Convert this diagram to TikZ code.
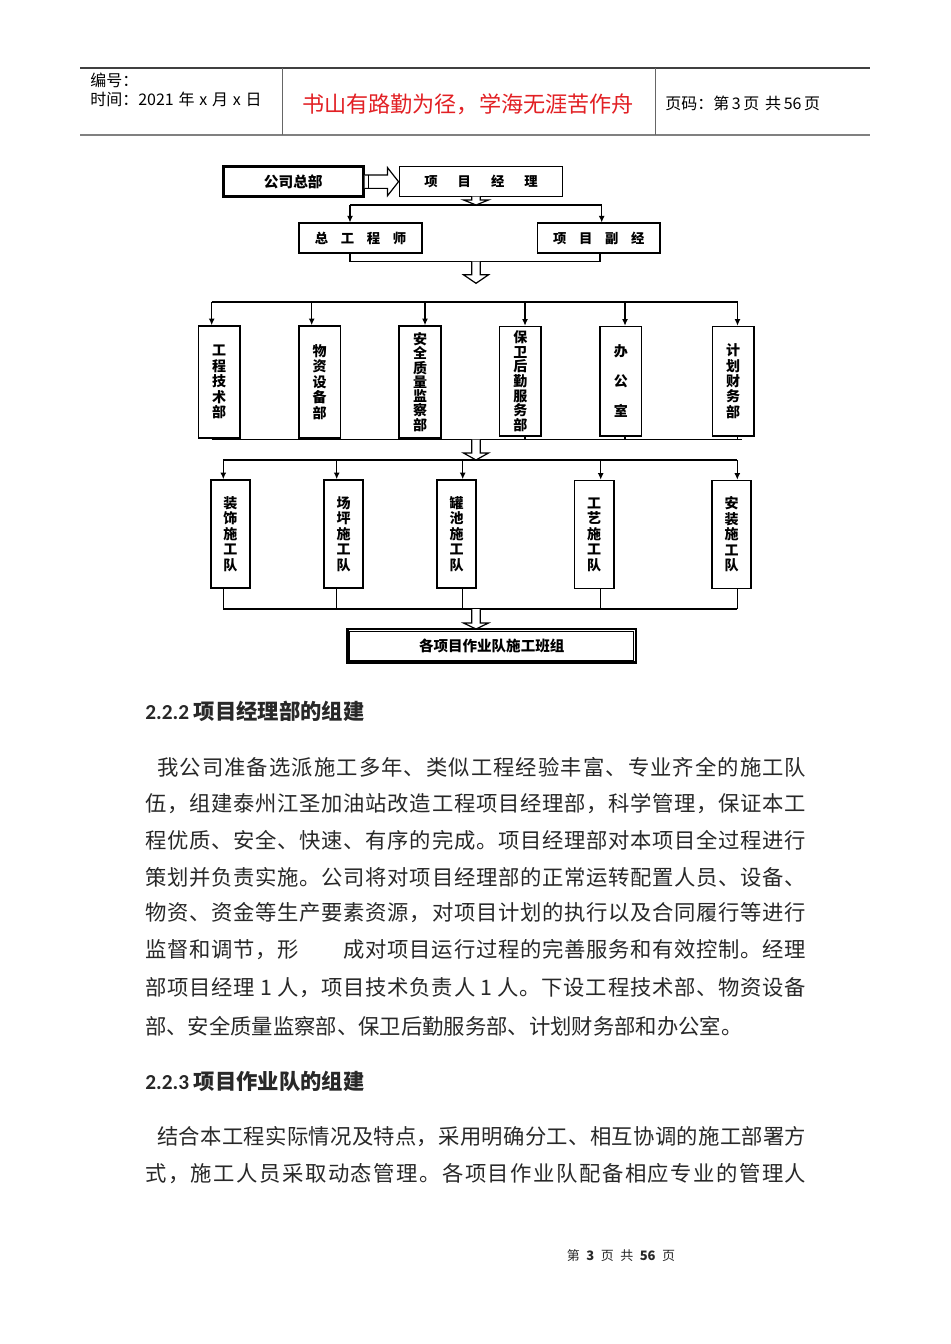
\documentclass[tikz,border=0pt]{standalone}
\usepackage{fontspec}
\setmainfont{Noto Sans CJK SC}
\newfontfamily\calfont{Carlito}
\usetikzlibrary{arrows.meta,calc}
\newcount\cjkcnt
\cjkcnt="4E00
\loop \XeTeXcharclass\cjkcnt=7 \advance\cjkcnt by 1 \ifnum\cjkcnt<"A000 \repeat
\XeTeXcharclass"3001=7
\XeTeXcharclass"3002=7
\XeTeXcharclass"FF0C=7
\XeTeXcharclass"FF1A=7
\XeTeXinterchartokenstate=1
\newcommand\cjkglue{\hskip 0pt plus 4pt\relax}
\XeTeXinterchartoks 7 7 = {\cjkglue}
\definecolor{redtxt}{RGB}{226,32,36}
\definecolor{txtgray}{RGB}{40,40,40}
\newcommand\bodyfnt{\fontsize{16pt}{20pt}\selectfont}
\newcommand\hollowdown[3]{%
  \draw[hollow] ($(#1)+(-4.2,0)$) -- ($(#2)+(-4.2,-#3)$) -- ($(#2)+(-12.5,-#3)$) -- (#2) -- ($(#2)+(12.5,-#3)$) -- ($(#2)+(4.2,-#3)$) -- ($(#1)+(4.2,0)$);}
\tikzset{
  box/.style={draw, line width=1.2pt, inner sep=0pt, font=\fontsize{10pt}{12pt}\selectfont\bfseries},
  dept/.style={box, minimum width=31.2pt, minimum height=84pt, align=center},
  team/.style={box, minimum width=29.3pt, minimum height=81pt, align=center},
  wide/.style={box, minimum width=92pt, minimum height=22.5pt},
  conn/.style={line width=0.9pt},
  arr/.style={conn, -{Latex[length=5pt,width=4.5pt]}},
  hollow/.style={draw, line width=0.9pt, fill=white, line join=miter},
  body/.style={anchor=west, inner sep=0pt, font=\bodyfnt, text=txtgray},
  head/.style={anchor=west, inner sep=0pt, font=\fontsize{16pt}{20pt}\selectfont\bfseries, text=txtgray},
  hdr/.style={anchor=west, inner sep=0pt, font=\fontsize{12pt}{14pt}\selectfont}
}
\begin{document}
\begin{tikzpicture}[x=0.75pt,y=-0.75pt]
\useasboundingbox (0,0) rectangle (950,1344);
\fill[white] (0,0) rectangle (950,1344);

% ---------- header ----------
\draw[line width=0.8pt, black!75] (80,68) -- (870,68);
\draw[line width=1.8pt, black!50] (80,135) -- (870,135);
\draw[line width=0.6pt, black!60] (282,68) -- (282,135);
\draw[line width=0.6pt, black!60] (655,68) -- (655,135);
\node[hdr] (no) at (90,80) {编号：};
\node[hdr] (time) at (90,99) {时间：2021\hspace{0.3em}年\hspace{0.3em}x\hspace{0.3em}月\hspace{0.3em}x\hspace{0.3em}日};
\node[inner sep=0pt, font=\fontsize{16.6pt}{20pt}\selectfont, text=redtxt] (motto) at (468,104) {书山有路勤为径，学海无涯苦作舟};
\node[hdr] (pg) at (665,103) {页码：第\,3\,页\hspace{0.35em}共\,56\,页};

% ---------- chart: top ----------
\node[box, line width=1.9pt, minimum width=105pt, minimum height=22.5pt, font=\fontsize{11pt}{13pt}\selectfont\bfseries] (hq) at (293.3,181.7) {公司总部};
\node[box, minimum width=122.5pt, minimum height=22.5pt] (pm) at (481,181.7) {项\hspace{1.5em}目\hspace{1.5em}经\hspace{1.5em}理};
\node[wide] (ce) at (360.5,238.3) {总\hspace{0.95em}工\hspace{0.95em}程\hspace{0.95em}师};
\node[wide] (dpm) at (598.7,238.3) {项\hspace{0.95em}目\hspace{0.95em}副\hspace{0.95em}经};

\draw[hollow] ($(hq.east)+(0,-6.7)$) -- ($(pm.west)+(-11,-6.7)$) -- ($(pm.west)+(-11,-14)$) -- (pm.west) -- ($(pm.west)+(-11,14)$) -- ($(pm.west)+(-11,6.7)$) -- ($(hq.east)+(0,6.7)$);
\draw[line width=0.9pt] ($(hq.east)+(4,-6.7)$) -- ($(hq.east)+(4,6.7)$);

\coordinate (s1) at (350,205);
\coordinate (s2) at (601.7,205);
\coordinate (sm) at (476,205);
\coordinate (pmb) at (476,196.7);
\draw[conn] (s1) -- (s2);
\draw[arr] (s1) -- (s1 |- ce.north);
\draw[arr] (s2) -- (s2 |- dpm.north);
\hollowdown{pmb}{sm}{5}

\coordinate (u1) at (350,261.7);
\coordinate (u2) at (600,261.7);
\coordinate (um) at (476,261.7);
\coordinate (ut) at (476,283.3);
\draw[conn] (u1 |- ce.south) -- (u1) -- (u2) -- (u2 |- dpm.south);
\hollowdown{um}{ut}{8.5}

% ---------- chart: departments ----------
\node[dept, font=\fontsize{10.5pt}{11.6pt}\selectfont\bfseries] (b1) at (219.2,382) {工\\程\\技\\术\\部};
\node[dept, font=\fontsize{10.5pt}{11.6pt}\selectfont\bfseries] (b2) at (319.7,382) {物\\资\\设\\备\\部};
\node[dept, font=\fontsize{10.5pt}{10.7pt}\selectfont\bfseries] (b3) at (420,382) {安\\全\\质\\量\\监\\察\\部};
\node[dept, font=\fontsize{10.5pt}{10.9pt}\selectfont\bfseries, minimum height=82pt] (b4) at (520.3,381.2) {保\\卫\\后\\勤\\服\\务\\部};
\node[dept, font=\fontsize{10.5pt}{22.5pt}\selectfont\bfseries, minimum height=82pt] (b5) at (620.8,381.2) {办\\公\\室};
\node[dept, font=\fontsize{10.5pt}{11.6pt}\selectfont\bfseries, minimum height=82pt] (b6) at (733.1,381.2) {计\\划\\财\\务\\部};

\coordinate (d1) at (211.7,302);
\coordinate (d2) at (311.7,302);
\coordinate (d3) at (425,302);
\coordinate (d4) at (525,302);
\coordinate (d5) at (625,302);
\coordinate (d6) at (737.5,302);
\draw[conn] (d1) -- (d6);
\foreach \i in {1,...,6} { \draw[arr] (d\i) -- (d\i |- b\i.north); }

\coordinate (e1) at (211.7,439.5);
\coordinate (e2) at (311.7,439.5);
\coordinate (e3) at (425,439.5);
\coordinate (e4) at (525,439.5);
\coordinate (e5) at (625,439.5);
\coordinate (e6) at (737.5,439.5);
\coordinate (eR) at (741.7,439.5);
\draw[conn] (e1) -- (eR);
\foreach \i in {4,5,6} { \draw[conn] (e\i |- b\i.south) -- (e\i); }
\coordinate (em) at (476,439.5);
\coordinate (et) at (476,460);
\hollowdown{em}{et}{7}

% ---------- chart: teams ----------
\node[team, font=\fontsize{10.5pt}{11.6pt}\selectfont\bfseries] (t1) at (230.3,534) {装\\饰\\施\\工\\队};
\node[team, font=\fontsize{10.5pt}{11.6pt}\selectfont\bfseries] (t2) at (343.5,534) {场\\坪\\施\\工\\队};
\node[team, font=\fontsize{10.5pt}{11.6pt}\selectfont\bfseries] (t3) at (456.7,534) {罐\\池\\施\\工\\队};
\node[team, font=\fontsize{10.5pt}{11.6pt}\selectfont\bfseries] (t4) at (594.2,534.5) {工\\艺\\施\\工\\队};
\node[team, font=\fontsize{10.5pt}{11.6pt}\selectfont\bfseries] (t5) at (731.5,534.5) {安\\装\\施\\工\\队};

\coordinate (f1) at (223.3,460);
\coordinate (f2) at (336.7,460);
\coordinate (f3) at (462.7,460);
\coordinate (f4) at (600.7,460);
\coordinate (f5) at (737.3,460);
\draw[conn] (f1) -- (f5);
\foreach \i in {1,...,5} { \draw[arr] (f\i) -- (f\i |- t\i.north); }

\coordinate (g1) at (223.3,609);
\coordinate (g2) at (336.7,609);
\coordinate (g3) at (462.7,609);
\coordinate (g4) at (600.7,609);
\coordinate (g5) at (737.3,609);
\draw[conn] (g1) -- (g5);
\foreach \i in {1,...,5} { \draw[conn] (g\i |- t\i.south) -- (g\i); }

\node[box, line width=2pt, minimum width=216.5pt, minimum height=25.3pt, font=\fontsize{10.9pt}{13pt}\selectfont\bfseries] (fin) at (491.7,645.8) {各项目作业队施工班组};
\draw[line width=0.7pt] ([xshift=2.6pt,yshift=2.6pt]fin.south west) rectangle ([xshift=-2.6pt,yshift=-2.6pt]fin.north east);
\coordinate (gm) at (476,609);
\coordinate (gt) at (476,629);
\hollowdown{gm}{gt}{6}

% ---------- body text ----------
\node[head] (h222) at (145,711) {{\calfont\bfseries 2.2.2} 项目经理部的组建};
\node[body] (p1) at (157,767) {\hbox to 486.75pt{我公司准备选派施工多年、类似工程经验丰富、专业齐全的施工队}};
\node[body] (p2) at (145,804) {\hbox to 495.75pt{伍，组建泰州江圣加油站改造工程项目经理部，科学管理，保证本工}};
\node[body] (p3) at (145,840) {\hbox to 495.75pt{程优质、安全、快速、有序的完成。项目经理部对本项目全过程进行}};
\node[body] (p4) at (145,877) {\hbox to 495.75pt{策划并负责实施。公司将对项目经理部的正常运转配置人员、设备、}};
\node[body] (p5) at (145,913) {\hbox to 495.75pt{物资、资金等生产要素资源，对项目计划的执行以及合同履行等进行}};
\node[body] (p6) at (145,950) {\hbox to 495.75pt{监督和调节，形\hspace{2.1em}成对项目运行过程的完善服务和有效控制。经理}};
\node[body] (p7) at (145,988) {\hbox to 495.75pt{部项目经理 1 人，项目技术负责人 1 人。下设工程技术部、物资设备}};
\node[body] (p8) at (145,1026) {部、安全质量监察部、保卫后勤服务部、计划财务部和办公室。};

\node[head] (h223) at (145,1081) {{\calfont\bfseries 2.2.3} 项目作业队的组建};
\node[body] (q1) at (157,1137) {\hbox to 486.75pt{结合本工程实际情况及特点，采用明确分工、相互协调的施工部署方}};
\node[body] (q2) at (145,1174) {\hbox to 495.75pt{式，施工人员采取动态管理。各项目作业队配备相应专业的管理人}};

% ---------- footer ----------
\node[inner sep=0pt, font=\fontsize{9.75pt}{12pt}\selectfont, text=txtgray] (foot) at (621,1256) {第\hspace{0.5em}\textbf{3}\hspace{0.5em}页\hspace{0.5em}共\hspace{0.5em}\textbf{56}\hspace{0.5em}页};
\end{tikzpicture}
\end{document}
